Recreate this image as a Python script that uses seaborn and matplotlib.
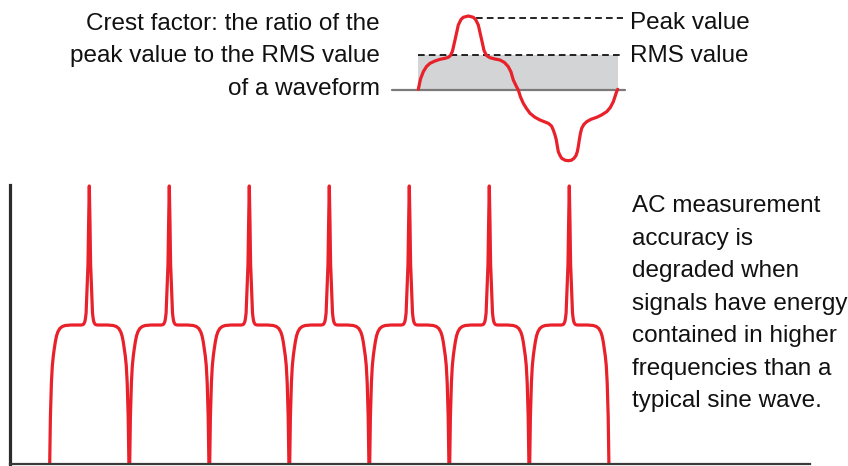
import numpy as np
import pandas as pd
import seaborn as sns
import matplotlib.pyplot as plt

# ---- data (pixel units) ----
# one period of the distorted wave: offset from dip centre, height above baseline
period_d = [0, 0.4, 0.8, 1.1, 1.6, 2.1, 3.0, 4.0, 4.8, 6.0, 7.2, 8.5, 10.5, 13, 16, 22, 28,
            32, 34, 35, 35.7, 36.2, 36.8, 37.4, 38.7, 39.3, 40,
            40.7, 41.3, 42.6, 43.2, 43.8, 44.3, 45, 46, 48,
            52, 58, 64, 67, 69.5, 71.5, 72.8, 74, 75.2, 76, 77, 77.9, 78.4, 78.9, 79.2, 79.6, 80]
period_h = [-12, 0, 25, 47, 65, 81, 98, 108, 114, 122, 128, 132, 135.5, 137.5, 138.5, 139, 139,
            139, 139.5, 141, 143, 146, 151, 167, 200, 240, 278,
            240, 200, 167, 151, 146, 143, 141, 139.5, 139,
            139, 139, 138.5, 137.5, 135.5, 132, 128, 122, 114, 108, 98, 81, 65, 47, 25, 0, -12]
cycle_starts = [49.3, 129.3, 209.3, 289.3, 369.3, 449.3, 529.3]

# crest factor sketch: x and y (image pixels, y downwards)
top_x = [418.3, 420.5, 423.3, 426.5, 430, 435, 440, 445, 448.3, 450.5, 452.5, 455, 458.3,
         461, 463.3, 468.3, 473.3, 475.6, 478.3, 481.7, 484, 486.5, 490, 495, 500, 504.5,
         508.3, 511, 513.3, 516.7, 518.3, 520.5, 523.3, 526.5, 530, 535, 540, 544.5,
         548.3, 551.5, 553.3, 555, 556.3, 557.3, 558.3, 560, 561.7, 565, 568.3, 571.5, 574,
         576, 577.3, 578.4, 579.3, 580.4, 581.7, 583.8, 586.7, 591, 596.7, 601.5, 606.7,
         610.3, 613.3, 615.2, 616.7, 617.7]
top_y = [89.3, 79, 71.7, 66.5, 63.3, 61, 59.3, 58.3, 57.3, 55.5, 51, 40, 25,
         19.5, 17.3, 16, 17.3, 19.5, 25, 40, 50.5, 55.5, 57.7, 59, 60, 62.5,
         66.7, 72, 80, 87, 90, 97, 103.3, 108.5, 113.3, 117.3, 120, 121.8,
         123.3, 126, 130, 135, 140, 146, 151.7, 155.5, 158.3, 160.2, 160.7, 160.2, 158.3,
         155.5, 151.7, 146, 140, 133.5, 128.3, 124.5, 121.7, 119.3, 117.3, 115, 111.7,
         107.5, 101.7, 96, 91.5, 89.3]

rms_level = 55
peak_level = 17.5
box_left, box_right = 418.3, 618.3

left_lines = ["Crest factor: the ratio of the", "peak value to the RMS value", "of a waveform"]
right_lines = ["AC measurement", "accuracy is", "degraded when", "signals have energy",
               "contained in higher", "frequencies than a", "typical sine wave."]

red = "#e8212b"

sns.set_theme(style="white")
plt.rcParams['font.family'] = ['Liberation Sans', 'DejaVu Sans']

fig = plt.figure(figsize=(8.48, 4.66), dpi=100)

# overlay axes in pixel coordinates for the sketch and the texts
ax0 = fig.add_axes([0, 0, 1, 1])
ax0.set_xlim(0, 848)
ax0.set_ylim(466, 0)
ax0.axis("off")

ax0.fill_between([box_left, box_right], rms_level, 89.3, color="#d3d4d6", lw=0, zorder=1)
ax0.plot([392, 625], [89.5, 89.5], color="#7a7a7a", lw=1.6, zorder=2)
ax0.plot([box_left, 623], [rms_level, rms_level], color="black", lw=1.2,
         ls=(0, (4, 2.5)), zorder=2)
ax0.plot([476, 623], [peak_level, peak_level], color="black", lw=1.2,
         ls=(0, (4, 2.5)), zorder=2)
sns.lineplot(x=top_x, y=top_y, sort=False, estimator=None, color=red, lw=2.3, ax=ax0, zorder=3)

fs = 17.5
for i, line in enumerate(left_lines):
    ax0.text(380, 30 + 32.3 * i, line, ha="right", va="baseline", fontsize=fs, color="#111111")
ax0.text(630, 29, "Peak value", ha="left", va="baseline", fontsize=fs, color="#111111")
ax0.text(630, 61.5, "RMS value", ha="left", va="baseline", fontsize=fs, color="#111111")
for i, line in enumerate(right_lines):
    ax0.text(632, 212.3 + 32.5 * i, line, ha="left", va="baseline", fontsize=fs, color="#111111")

# bottom chart: repeating waveform with spikes
rows = []
for c in cycle_starts:
    for d, h in zip(period_d, period_h):
        rows.append((c + d, h))
wave = pd.DataFrame(rows, columns=["x", "h"])

ax = fig.add_axes([10 / 848, 2 / 466, 800 / 848, 282 / 466])
ax.patch.set_alpha(0)
sns.lineplot(data=wave, x="x", y="h", sort=False, estimator=None, color=red, lw=2.3, ax=ax)
ax.set_xlim(10, 810)
ax.set_ylim(0, 282)
ax.set_xticks([])
ax.set_yticks([])
ax.set_xlabel("")
ax.set_ylabel("")
for s in ["top", "right"]:
    ax.spines[s].set_visible(False)
ax.spines["left"].set_color("#2b2b2b")
ax.spines["left"].set_linewidth(2.3)
ax.spines["left"].set_bounds(0, 279)
ax.spines["bottom"].set_color("#3a3a3a")
ax.spines["bottom"].set_linewidth(1.6)

fig.savefig("out.png", dpi=100)
